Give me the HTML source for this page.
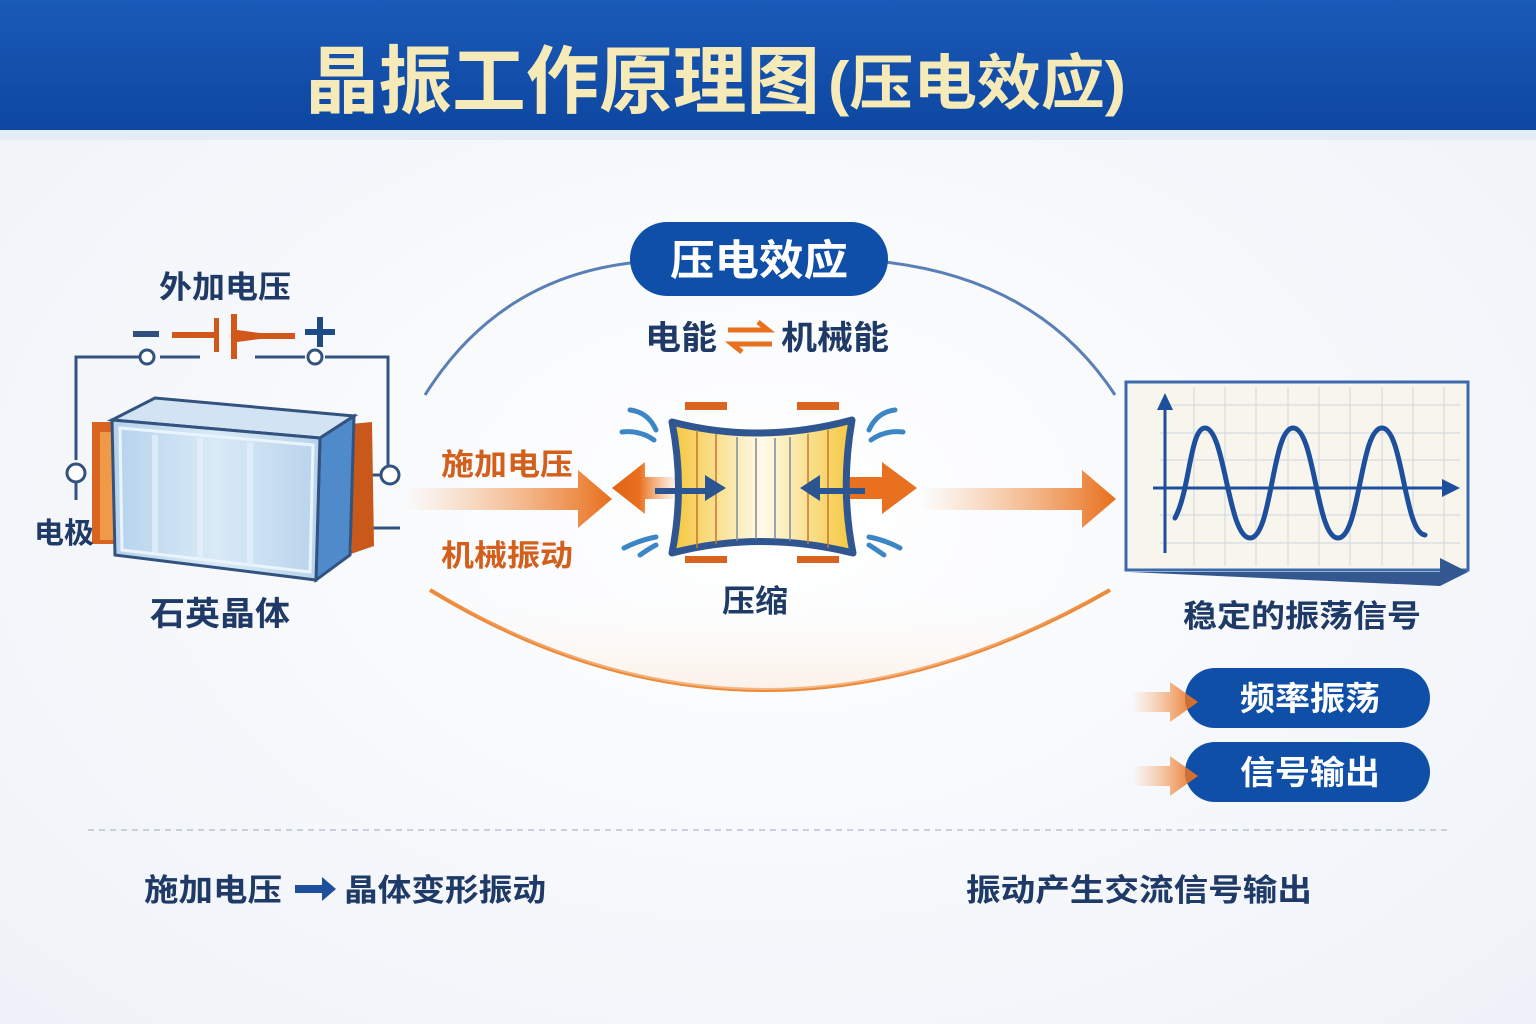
<!DOCTYPE html>
<html><head><meta charset="utf-8"><style>
html,body{margin:0;padding:0;width:1536px;height:1024px;overflow:hidden;background:#f6f8fc}
svg{display:block}
text{font-family:"Liberation Sans","Noto Sans CJK SC",sans-serif;font-weight:bold}
</style></head><body>
<svg width="1536" height="1024" viewBox="0 0 1536 1024" xmlns="http://www.w3.org/2000/svg">
<defs>
<radialGradient id="bg" cx="50%" cy="50%" r="70%"><stop offset="0" stop-color="#ffffff"/><stop offset="1" stop-color="#eef2f8"/></radialGradient>
<linearGradient id="hdr" x1="0" x2="0" y1="0" y2="1"><stop offset="0" stop-color="#1a5ab8"/><stop offset="1" stop-color="#0d47a1"/></linearGradient>
<linearGradient id="oarr" x1="0" x2="1"><stop offset="0" stop-color="#f6a25a" stop-opacity="0"/><stop offset="1" stop-color="#e86e1c"/></linearGradient>
<linearGradient id="oarrL" x1="1" x2="0"><stop offset="0" stop-color="#f6a25a" stop-opacity="0"/><stop offset="0.6" stop-color="#e8701e"/><stop offset="1" stop-color="#e06418"/></linearGradient>
<linearGradient id="glass" x1="0" x2="1"><stop offset="0" stop-color="#b5d2ec"/><stop offset="0.5" stop-color="#d9eaf7"/><stop offset="1" stop-color="#b8d3ec"/></linearGradient>
<linearGradient id="yel" x1="0" x2="1"><stop offset="0" stop-color="#f4c63a"/><stop offset="0.5" stop-color="#fffbe8"/><stop offset="1" stop-color="#f4c63a"/></linearGradient>
<linearGradient id="arcB" x1="0" x2="0" y1="0" y2="1"><stop offset="0" stop-color="#fff" stop-opacity="0"/><stop offset="1" stop-color="#fde6cf" stop-opacity="0.8"/></linearGradient>
</defs>
<rect width="1536" height="1024" fill="url(#bg)"/>
<!-- header -->
<rect width="1536" height="130" fill="url(#hdr)"/>
<rect y="130" width="1536" height="10" fill="#e3ecf7"/>
<text x="305" y="107" font-size="74" fill="#f6ebb8" textLength="515" lengthAdjust="spacingAndGlyphs">晶振工作原理图</text>
<text x="828" y="104" font-size="60" fill="#f6ebb8" textLength="298" lengthAdjust="spacingAndGlyphs">(压电效应)</text>

<!-- big ellipse -->
<path d="M430,590 Q760,790 1110,590" fill="none" stroke="#ec8a3a" stroke-width="4"/>
<path d="M430,590 Q760,790 1110,590 Z" fill="url(#arcB)" opacity="0.6"/>
<path d="M425,395 Q500,275 640,262" fill="none" stroke="#5a7fb5" stroke-width="3"/>
<path d="M885,262 Q1040,280 1115,395" fill="none" stroke="#5a7fb5" stroke-width="3"/>
<rect x="630" y="222" width="258" height="74" rx="37" fill="#0f4fa8"/>
<text x="759" y="275" font-size="42" fill="#fff" text-anchor="middle" textLength="178" lengthAdjust="spacingAndGlyphs">压电效应</text>
<text x="645" y="349" font-size="33" fill="#1f3a66" textLength="72" lengthAdjust="spacingAndGlyphs">电能</text>
<path d="M728,330 h40 l-10,-8 M772,344 h-40 l10,8" stroke="#e8701e" stroke-width="5" fill="none"/>
<text x="781" y="349" font-size="33" fill="#1f3a66" textLength="108" lengthAdjust="spacingAndGlyphs">机械能</text>

<!-- circuit -->
<text x="225" y="298" font-size="31" fill="#1f3a66" text-anchor="middle" textLength="132" lengthAdjust="spacingAndGlyphs">外加电压</text>
<rect x="133" y="331" width="26" height="6" fill="#2e4f80"/>
<rect x="172" y="332" width="42" height="6" fill="#d2571a"/>
<rect x="214" y="318" width="5" height="34" fill="#d2571a"/>
<rect x="231" y="314" width="6" height="45" fill="#d2571a"/>
<path d="M237,330 L260,333 L295,333 L295,339 L260,339 L237,342Z" fill="#d2571a"/>
<rect x="305" y="329" width="30" height="6" fill="#1e4a86"/><rect x="317" y="317" width="6" height="30" fill="#1e4a86"/>
<path d="M76,460 V357 H140 M160,357 H200 M255,357 H305 M325,357 H388 V465" fill="none" stroke="#34527e" stroke-width="3"/>
<circle cx="147" cy="357" r="7" fill="#fff" stroke="#34527e" stroke-width="3"/>
<circle cx="315" cy="357" r="7" fill="#fff" stroke="#34527e" stroke-width="3"/>
<circle cx="76" cy="473" r="9" fill="#fff" stroke="#34527e" stroke-width="3"/>
<line x1="76" y1="482" x2="76" y2="500" stroke="#34527e" stroke-width="3"/>
<circle cx="390" cy="475" r="9" fill="#fff" stroke="#34527e" stroke-width="3"/>
<line x1="362" y1="475" x2="381" y2="475" stroke="#34527e" stroke-width="3"/>
<line x1="362" y1="528" x2="400" y2="528" stroke="#34527e" stroke-width="3"/>
<!-- electrodes -->
<rect x="92" y="422" width="28" height="122" fill="#d9641f"/>
<rect x="100" y="432" width="20" height="108" fill="#f09a48"/>
<path d="M340,425 L372,422 L374,546 L345,556Z" fill="#c9581b"/>
<rect x="340" y="435" width="12" height="115" fill="#f3a050"/>
<!-- crystal -->
<path d="M112,420 L155,398 L354,416 L320,438Z" fill="#d2e4f4" stroke="#34527e" stroke-width="3"/>
<path d="M320,438 L354,416 L350,555 L316,580Z" fill="#4f8acb" stroke="#34527e" stroke-width="3"/>
<path d="M112,420 L320,438 L316,580 L115,555Z" fill="url(#glass)" stroke="#34527e" stroke-width="3"/>
<path d="M120,428 L313,445 L310,572 L122,550Z" fill="none" stroke="#eaf4fc" stroke-width="3"/>
<g stroke="#e8f2fb" stroke-width="6" opacity="0.7"><line x1="155" y1="435" x2="155" y2="555"/><line x1="200" y1="438" x2="200" y2="560"/><line x1="250" y1="442" x2="250" y2="566"/></g>
<text x="34" y="543" font-size="29" fill="#1f3a66" textLength="60" lengthAdjust="spacingAndGlyphs">电极</text>
<text x="220" y="625" font-size="33" fill="#1f3a66" text-anchor="middle" textLength="140" lengthAdjust="spacingAndGlyphs">石英晶体</text>

<!-- left arrow -->
<path d="M405,488 H578 V470 L612,499 L578,528 V510 H405Z" fill="url(#oarr)"/>
<text x="507" y="475" font-size="30" fill="#d2601c" text-anchor="middle" textLength="132" lengthAdjust="spacingAndGlyphs">施加电压</text>
<text x="507" y="566" font-size="30" fill="#d2601c" text-anchor="middle" textLength="132" lengthAdjust="spacingAndGlyphs">机械振动</text>

<!-- center crystal -->
<path d="M612,488 L645,462 V477 H680 V499 H645 V514Z" fill="url(#oarrL)"/>
<path d="M917,488 L882,462 V477 H846 V499 H882 V514Z" fill="#e8701e"/>
<path d="M672,422 Q760,445 852,420 Q840,488 853,553 Q760,530 672,553 Q685,488 672,422Z" fill="url(#yel)" stroke="#2f5690" stroke-width="7" stroke-linejoin="round"/>
<g stroke="#c9772a" stroke-width="1.5"><line x1="697" y1="430" x2="697" y2="548"/><line x1="716" y1="434" x2="716" y2="544"/><line x1="808" y1="434" x2="808" y2="544"/><line x1="828" y1="430" x2="828" y2="548"/></g>
<g stroke="#7c8aa0" stroke-width="1.5"><line x1="737" y1="437" x2="737" y2="541"/><line x1="756" y1="438" x2="756" y2="539"/><line x1="775" y1="438" x2="775" y2="539"/><line x1="790" y1="437" x2="790" y2="541"/></g>
<path d="M655,488 H705 V475 L726,488 L705,501 V494 H655Z" fill="#2a5590"/>
<path d="M865,488 H820 V475 L800,488 L820,501 V494 H865Z" fill="#2a5590"/>
<g fill="#d9641f"><path d="M685,402 h42 v8 h-42z"/><path d="M797,402 h42 v8 h-42z"/><path d="M685,563 h42 v-7 h-42z"/><path d="M797,563 h42 v-7 h-42z"/></g>
<g stroke="#3d86c6" stroke-width="5" fill="none" stroke-linecap="round">
<path d="M630,410 Q648,412 656,430"/><path d="M622,432 Q640,430 654,440"/>
<path d="M895,410 Q877,412 869,430"/><path d="M903,432 Q885,430 871,440"/>
<path d="M624,548 Q640,540 656,537"/><path d="M640,555 Q650,548 656,545"/>
<path d="M900,548 Q885,540 869,537"/><path d="M884,555 Q874,548 869,545"/>
</g>
<text x="755" y="612" font-size="31" fill="#1f3a66" text-anchor="middle" textLength="66" lengthAdjust="spacingAndGlyphs">压缩</text>

<!-- right arrow -->
<path d="M920,488 H1082 V470 L1116,499 L1082,528 V510 H920Z" fill="url(#oarr)"/>

<!-- graph -->
<rect x="1126" y="382" width="342" height="188" fill="#f8f5ec" stroke="#3d6aad" stroke-width="3"/>
<g stroke="#d6dbe2" stroke-width="1.2">
<line x1="1194" y1="387" x2="1194" y2="566"/><line x1="1225" y1="387" x2="1225" y2="566"/><line x1="1256" y1="387" x2="1256" y2="566"/><line x1="1288" y1="387" x2="1288" y2="566"/><line x1="1319" y1="387" x2="1319" y2="566"/><line x1="1350" y1="387" x2="1350" y2="566"/><line x1="1382" y1="387" x2="1382" y2="566"/><line x1="1413" y1="387" x2="1413" y2="566"/><line x1="1444" y1="387" x2="1444" y2="566"/>
<line x1="1160" y1="405" x2="1460" y2="405"/><line x1="1160" y1="433" x2="1460" y2="433"/><line x1="1160" y1="460" x2="1460" y2="460"/><line x1="1160" y1="515" x2="1460" y2="515"/><line x1="1160" y1="543" x2="1460" y2="543"/>
</g>
<path d="M1130,572 H1440 V558 L1468,572 L1440,586Z" fill="#33578f"/>
<line x1="1165" y1="553" x2="1165" y2="405" stroke="#1d4f9c" stroke-width="3"/>
<path d="M1157,410 L1165,393 L1173,410Z" fill="#1d4f9c"/>
<line x1="1153" y1="488" x2="1445" y2="488" stroke="#1d4f9c" stroke-width="3"/>
<path d="M1442,479 L1460,488 L1442,497Z" fill="#1d4f9c"/>
<path d="M1175,518 C1190,490 1190,428 1205,428 C1225,428 1228,538 1250,538 C1272,538 1272,428 1293,428 C1315,428 1316,538 1338,538 C1360,538 1360,428 1382,428 C1403,428 1404,533 1425,535" fill="none" stroke="#1d4f9c" stroke-width="5" stroke-linecap="round"/>
<text x="1302" y="627" font-size="31" fill="#1f3a66" text-anchor="middle" textLength="238" lengthAdjust="spacingAndGlyphs">稳定的振荡信号</text>

<!-- pills -->
<rect x="1185" y="668" width="245" height="60" rx="30" fill="#0f4fa8"/>
<text x="1310" y="710" font-size="33" fill="#fff" text-anchor="middle" textLength="140" lengthAdjust="spacingAndGlyphs">频率振荡</text>
<path d="M1132,692 H1170 V682 L1198,702 L1170,722 V712 H1132Z" fill="url(#oarr)"/>
<rect x="1185" y="742" width="245" height="60" rx="30" fill="#0f4fa8"/>
<text x="1310" y="784" font-size="33" fill="#fff" text-anchor="middle" textLength="140" lengthAdjust="spacingAndGlyphs">信号输出</text>
<path d="M1132,766 H1170 V756 L1198,776 L1170,796 V786 H1132Z" fill="url(#oarr)"/>

<!-- bottom -->
<line x1="88" y1="830" x2="1448" y2="830" stroke="#b9c2d0" stroke-width="1.5" stroke-dasharray="6,5"/>
<text x="144" y="901" font-size="31" fill="#1f3a66" textLength="138" lengthAdjust="spacingAndGlyphs">施加电压</text>
<path d="M295,885 H322 V877 L336,889 L322,901 V893 H295Z" fill="#1d4f9c"/>
<text x="344" y="901" font-size="31" fill="#1f3a66" textLength="202" lengthAdjust="spacingAndGlyphs">晶体变形振动</text>
<text x="966" y="901" font-size="31" fill="#1f3a66" textLength="346" lengthAdjust="spacingAndGlyphs">振动产生交流信号输出</text>
</svg>
</body></html>
